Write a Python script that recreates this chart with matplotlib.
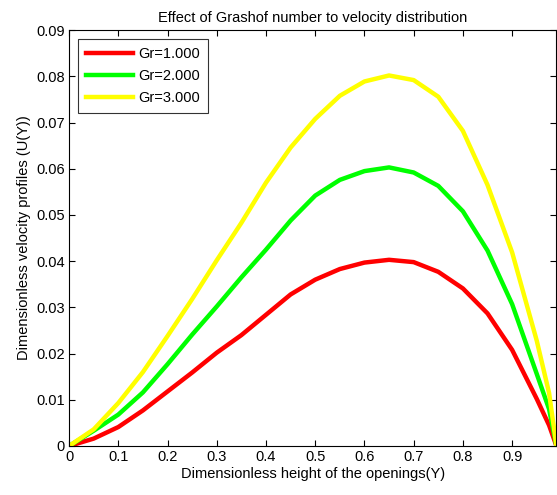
import matplotlib.pyplot as plt
from matplotlib import rcParams

rcParams['font.family'] = ['Liberation Sans', 'DejaVu Sans']

# data
y_pos = [0.0, 0.05, 0.10, 0.15, 0.20, 0.25, 0.30, 0.35, 0.40, 0.45, 0.50,
         0.55, 0.60, 0.65, 0.70, 0.75, 0.80, 0.85, 0.90, 0.95, 0.975, 0.99]
u_gr1 = [0.0, 0.0016, 0.0041, 0.0077, 0.0118, 0.0159, 0.0202, 0.0240, 0.0284, 0.0328, 0.0360,
         0.0383, 0.0397, 0.0403, 0.0398, 0.0377, 0.0341, 0.0287, 0.0208, 0.0102, 0.0045, 0.0]
u_gr2 = [0.0, 0.0033, 0.0068, 0.0116, 0.0177, 0.0241, 0.0302, 0.0365, 0.0425, 0.0488, 0.0542,
         0.0576, 0.0595, 0.0603, 0.0592, 0.0563, 0.0508, 0.0423, 0.0307, 0.0156, 0.0080, 0.0]
u_gr3 = [0.0, 0.0036, 0.0093, 0.0160, 0.0238, 0.0318, 0.0402, 0.0483, 0.0570, 0.0646, 0.0708,
         0.0758, 0.0789, 0.0802, 0.0792, 0.0756, 0.0682, 0.0565, 0.0419, 0.0228, 0.0115, 0.0]
labels = ['Gr=1.000', 'Gr=2.000', 'Gr=3.000']
colors = ['#ff0000', '#00ff00', '#ffff00']

fig = plt.figure(figsize=(5.57, 4.95), dpi=100)
ax = fig.add_axes([0.124, 0.099, 0.875, 0.840])

for u, lab, c in zip([u_gr1, u_gr2, u_gr3], labels, colors):
    ax.plot(y_pos, u, color=c, linewidth=3.2, label=lab)

ax.set_xlim(0, 0.99)
ax.set_ylim(0, 0.09)
ax.set_xticks([0, 0.1, 0.2, 0.3, 0.4, 0.5, 0.6, 0.7, 0.8, 0.9])
ax.set_xticklabels(['0', '0.1', '0.2', '0.3', '0.4', '0.5', '0.6', '0.7', '0.8', '0.9'])
ax.set_yticks([0, 0.01, 0.02, 0.03, 0.04, 0.05, 0.06, 0.07, 0.08, 0.09])
ax.set_yticklabels(['0', '0.01', '0.02', '0.03', '0.04', '0.05', '0.06', '0.07', '0.08', '0.09'])
ax.tick_params(direction='in', top=True, right=True, length=4, labelsize=10.5, pad=3)
for s in ax.spines.values():
    s.set_linewidth(0.8)

ax.set_title('Effect of Grashof number to velocity distribution', fontsize=10.5, pad=6)
ax.set_xlabel('Dimensionless height of the openings(Y)', fontsize=10.5, labelpad=2)
ax.set_ylabel('Dimensionless velocity profiles (U(Y))', fontsize=10.5, labelpad=4)

leg = ax.legend(loc='upper left', fontsize=10.5, frameon=True, fancybox=False,
                edgecolor='black', handlelength=3.2, borderaxespad=0.6,
                labelspacing=0.55, handletextpad=0.4, borderpad=0.55)
leg.get_frame().set_linewidth(0.8)

fig.savefig('out.png', dpi=100)
